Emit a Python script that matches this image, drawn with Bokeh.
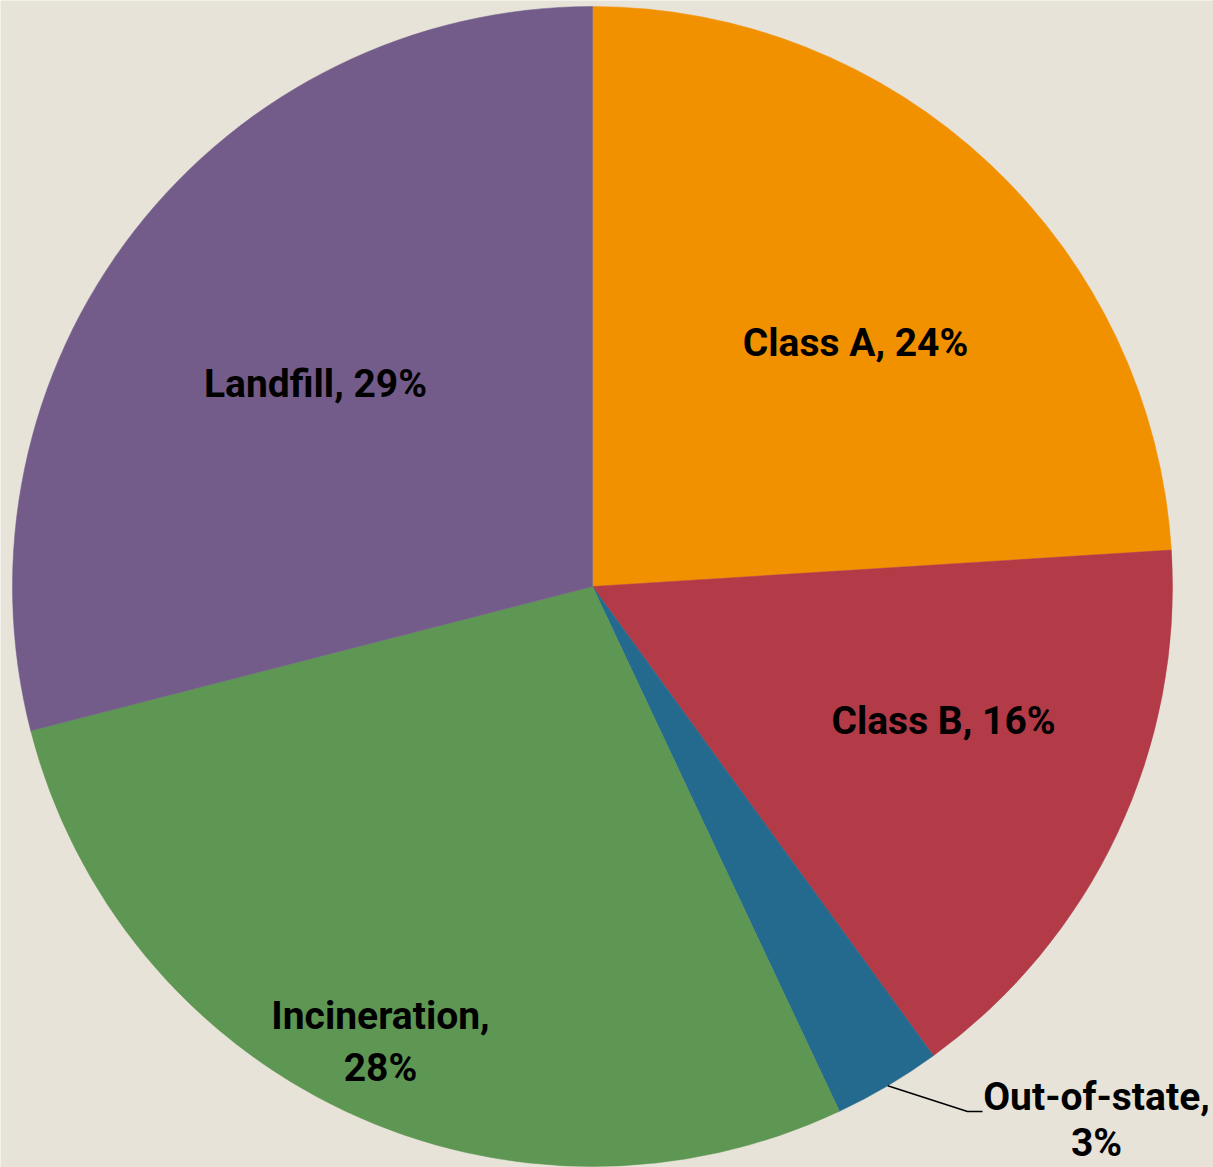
import math
from bokeh.plotting import figure
from bokeh.models import ColumnDataSource, Range1d
from bokeh.core.properties import value
from bokeh.embed import file_html
from bokeh.resources import INLINE

# Data (clockwise from 12 o'clock)
categories = ["Class A", "Class B", "Out-of-state", "Incineration", "Landfill"]
shares = [24, 16, 3, 28, 29]
colors = ["#F29100", "#B33B47", "#236A8E", "#5E9653", "#735C89"]

# Layout (pixels, y measured downward from the top of the page)
W, H = 1213, 1167
CX, CY_PX, R = 592, 586, 580
BG = "#E7E3D9"
# label centres (x, y of first line), and whether the label wraps
label_pos = [(855, 342), (943, 720), (1096, 1096), (380, 1015), (315, 383)]
label_wrap = [False, False, True, True, False]
line_gaps = [0, 0, 46, 52, 0]
leader_elbow = [(967, 1111), (982, 1111)]

CY = H - CY_PX

total = sum(shares)
starts, ends = [], []
cum = 0.0
for s in shares:
    a0 = math.pi / 2 - 2 * math.pi * cum / total
    cum += s
    a1 = math.pi / 2 - 2 * math.pi * cum / total
    starts.append(a0)
    ends.append(a1)

src = ColumnDataSource(dict(
    x=[CX] * len(shares), y=[CY] * len(shares),
    start=starts, end=ends, color=colors,
))

p = figure(width=W, height=H, output_backend="svg", toolbar_location=None,
           x_range=Range1d(0, W), y_range=Range1d(0, H), min_border=0)
p.axis.visible = False
p.grid.visible = False
p.outline_line_color = None
p.background_fill_color = BG
p.border_fill_color = BG

p.wedge(x="x", y="y", radius=R, start_angle="start", end_angle="end",
        direction="clock", fill_color="color", line_color="color",
        line_width=0.5, source=src)

# leader line for Out-of-state
i = categories.index("Out-of-state")
mid = (starts[i] + ends[i]) / 2
sx = CX + R * math.cos(mid)
sy = CY + R * math.sin(mid)
lx = [sx] + [e[0] for e in leader_elbow]
ly = [sy] + [H - e[1] for e in leader_elbow]
p.line(lx, ly, line_color="black", line_width=1.4)

tx, ty, tt = [], [], []
for cat, s, (px, py), wrap, gap in zip(categories, shares, label_pos, label_wrap, line_gaps):
    if wrap:
        tx += [px, px]
        ty += [H - py, H - py - gap]
        tt += [f"{cat},", f"{s}%"]
    else:
        tx.append(px)
        ty.append(H - py)
        tt.append(f"{cat}, {s}%")

p.text(x=tx, y=ty, text=tt, text_align="center", text_baseline="middle",
       text_font=value("Roboto"), text_font_style="bold",
       text_font_size="39px", text_color="black")

open("out.html", "w").write(file_html(p, INLINE))
